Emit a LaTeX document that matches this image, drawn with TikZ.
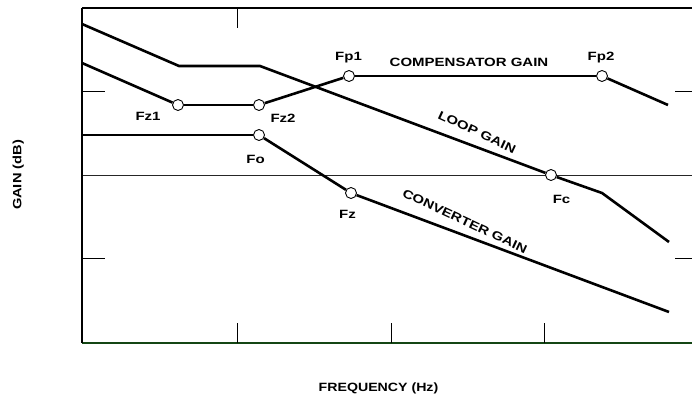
\documentclass[tikz,border=0pt]{standalone}
\usepackage{fontspec}
\setmainfont{Liberation Sans}
\definecolor{axgreen}{RGB}{20,70,20}
\newcommand{\wide}[1]{\scalebox{1.25}[1]{#1}}
\begin{document}
\begin{tikzpicture}[x=1pt,y=-1pt,
  curve/.style={line width=2.6pt, line join=miter},
  brk/.style={circle, draw, fill=white, line width=0.9pt, minimum size=11pt, inner sep=0pt},
  lbl/.style={font=\bfseries\fontsize{12}{12}\selectfont, inner sep=0pt, text height=8.6pt, text depth=0pt},
  tick/.style={line width=1pt},
  axis/.style={line width=1.8pt}]
\useasboundingbox (0,0) rectangle (692,398);
% frame coordinates
\coordinate (TL) at (82,8);
\coordinate (TR) at (692,8);
\coordinate (BL) at (82,343);
\coordinate (BR) at (692,343);
\coordinate (Z0) at (82,175);
\coordinate (Z1) at (692,175);
% 0 dB line
\draw[line width=0.9pt, black!85] (Z0) -- (Z1);
% axes
\draw[line width=1.2pt] (TL) -- (TR);
\draw[axis, axgreen] (BL) -- (BR);
\draw[axis] (TL) -- (BL);
% ticks
\foreach \i/\x in {1/237,2/391,3/544}{
  \coordinate (bt\i a) at (\x,343); \coordinate (bt\i b) at (\x,323);
  \draw[tick] (bt\i a) -- (bt\i b);}
\coordinate (tt1a) at (237,8); \coordinate (tt1b) at (237,28);
\draw[tick] (tt1a) -- (tt1b);
\foreach \i/\y in {1/92,2/258}{
  \coordinate (lt\i a) at (82,\y); \coordinate (lt\i b) at (105,\y);
  \draw[tick] (lt\i a) -- (lt\i b);
  \coordinate (rt\i a) at (675,\y); \coordinate (rt\i b) at (692,\y);
  \draw[tick] (rt\i a) -- (rt\i b);}
% break-point circles
\node[brk] (Fz1) at (178,105) {};
\node[brk] (Fz2) at (259,105) {};
\node[brk] (Fp1) at (349,76) {};
\node[brk] (Fp2) at (602,76) {};
\node[brk] (Fo) at (259,135) {};
\node[brk] (Fz) at (351,193) {};
\node[brk] (Fc) at (551,175) {};
% curve corner points
\coordinate (L0) at (82,24);
\coordinate (L1) at (179,66);
\coordinate (L2) at (260,66);
\coordinate (L4) at (602,193);
\coordinate (L5) at (669,242);
\coordinate (C0) at (82,63);
\coordinate (C5) at (668,105);
\coordinate (V0) at (82,135);
\coordinate (V3) at (669,312);
% curves
\draw[curve] (L0) -- (L1) -- (L2) -- (Fc);
\draw[curve] (Fc) -- (L4) -- (L5);
\draw[curve] (C0) -- (Fz1);
\draw[curve] (Fz1) -- (Fz2);
\draw[curve] (Fz2) -- (Fp1);
\draw[curve] (Fp1) -- (Fp2);
\draw[curve] (Fp2) -- (C5);
\draw[curve] (V0) -- (Fo);
\draw[curve] (Fo) -- (Fz);
\draw[curve] (Fz) -- (V3);
% labels
\node[lbl] (tFz1) at (148,116.5) {\wide{Fz1}};
\node[lbl] (tFz2) at (283,118.5) {\wide{Fz2}};
\node[lbl] (tFo) at (255.5,159) {\wide{Fo}};
\node[lbl] (tFz) at (347.5,214) {\wide{Fz}};
\node[lbl] (tFc) at (561.5,199) {\wide{Fc}};
\node[lbl] (tFp1) at (348.5,56.5) {\wide{Fp1}};
\node[lbl] (tFp2) at (601,56.5) {\wide{Fp2}};
\node[lbl] (tcomp) at (469,62.5) {\wide{COMPENSATOR GAIN}};
\node[lbl, rotate=-25] (tloop) at (477,132) {\wide{LOOP GAIN}};
\node[lbl, rotate=-25] (tconv) at (465,221) {\wide{CONVERTER GAIN}};
\node[lbl] (tfreq) at (378.5,387) {\scalebox{1.18}[1]{FREQUENCY (Hz)}};
\node[lbl, rotate=90] (tgain) at (17,175) {\scalebox{1.22}[1]{GAIN (dB)}};
\end{tikzpicture}
\end{document}
